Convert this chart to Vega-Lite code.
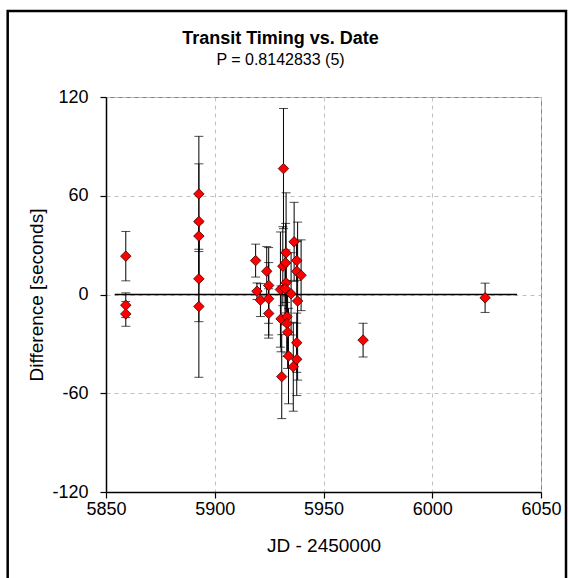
{
  "$schema": "https://vega.github.io/schema/vega-lite/v6.json",
  "autosize": {"type": "none"},
  "width": 435,
  "height": 395,
  "padding": {"left": 106, "top": 97, "right": 29, "bottom": 86},
  "background": "white",
  "title": {
    "text": "Transit Timing vs. Date",
    "subtitle": "P = 0.8142833 (5)",
    "font": "Liberation Sans",
    "fontSize": 18,
    "fontWeight": "bold",
    "color": "black",
    "subtitleFont": "Liberation Sans",
    "subtitleFontSize": 16,
    "subtitleColor": "black",
    "subtitlePadding": 4,
    "anchor": "middle",
    "frame": "group",
    "dx": -43,
    "offset": -58
  },
  "config": {
    "view": {"stroke": "#808080", "strokeWidth": 1},
    "axis": {
      "labelFont": "Liberation Sans",
      "labelFontSize": 18,
      "labelColor": "black",
      "labelFlush": false,
      "titleFont": "Liberation Sans",
      "titleFontSize": 19,
      "titleFontWeight": "normal",
      "titleColor": "black",
      "domainColor": "black",
      "domainWidth": 1.5,
      "tickColor": "black",
      "tickWidth": 1.2,
      "tickSize": 6,
      "gridColor": "#c0c0c0",
      "gridDash": [4, 4],
      "gridWidth": 1
    }
  },
  "datasets": {
    "timing": [
      {"jd": 5859.1, "diff": 23.3, "err": 15},
      {"jd": 5859.1, "diff": -6.5, "err": 7.5},
      {"jd": 5859.1, "diff": -11.8, "err": 7.5},
      {"jd": 5892.7, "diff": 61.1, "err": 35},
      {"jd": 5892.7, "diff": 44.4, "err": 35},
      {"jd": 5892.7, "diff": 35.5, "err": 8},
      {"jd": 5892.7, "diff": 9.5, "err": 26},
      {"jd": 5892.7, "diff": -7.3, "err": 43},
      {"jd": 5918.8, "diff": 20.6, "err": 10},
      {"jd": 5919.4, "diff": 2.0, "err": 5},
      {"jd": 5921.0, "diff": -3.4, "err": 10},
      {"jd": 5923.9, "diff": 14.1, "err": 15},
      {"jd": 5924.8, "diff": 5.5, "err": 23},
      {"jd": 5924.8, "diff": -2.6, "err": 22},
      {"jd": 5924.8, "diff": -11.5, "err": 15},
      {"jd": 5931.6, "diff": 76.5, "err": 36.5},
      {"jd": 5932.8, "diff": 25.3, "err": 36.5},
      {"jd": 5936.5, "diff": 32.0, "err": 24},
      {"jd": 5937.7, "diff": 20.6, "err": 12},
      {"jd": 5931.3, "diff": 17.2, "err": 24},
      {"jd": 5932.6, "diff": 19.2, "err": 24},
      {"jd": 5937.7, "diff": 14.1, "err": 18},
      {"jd": 5939.7, "diff": 11.7, "err": 21.5},
      {"jd": 5932.8, "diff": 7.1, "err": 20},
      {"jd": 5930.2, "diff": 3.0, "err": 35},
      {"jd": 5932.3, "diff": 3.6, "err": 22},
      {"jd": 5935.1, "diff": 0.4, "err": 25},
      {"jd": 5938.1, "diff": -4.0, "err": 48},
      {"jd": 5930.5, "diff": -14.8, "err": 20},
      {"jd": 5933.2, "diff": -13.5, "err": 22},
      {"jd": 5933.2, "diff": -17.6, "err": 20},
      {"jd": 5933.5, "diff": -22.9, "err": 22},
      {"jd": 5937.7, "diff": -29.3, "err": 18},
      {"jd": 5933.9, "diff": -37.4, "err": 29},
      {"jd": 5937.7, "diff": -39.4, "err": 22},
      {"jd": 5936.1, "diff": -43.9, "err": 27},
      {"jd": 5930.8, "diff": -49.9, "err": 25.5},
      {"jd": 5968.2, "diff": -27.7, "err": 10.3},
      {"jd": 6024.3, "diff": -2.0, "err": 8.9}
    ],
    "zeroline": [
      {"jd": 5854, "diff": 0},
      {"jd": 6039, "diff": 0}
    ],
    "frame": [
      {"x1": 5804.8, "x2": 6061.5, "y1": 172.3, "y2": -176}
    ]
  },
  "layer": [
    {
      "data": {"name": "frame"},
      "mark": {"type": "rect", "filled": false, "stroke": "black", "strokeWidth": 2.5, "clip": false},
      "encoding": {
        "x": {"field": "x1", "type": "quantitative", "title": "JD - 2450000", "scale": {"domain": [5850, 6050], "nice": false, "zero": false}},
        "x2": {"field": "x2"},
        "y": {"field": "y1", "type": "quantitative", "title": "Difference [seconds]", "scale": {"domain": [-120, 120], "nice": false}},
        "y2": {"field": "y2"}
      }
    },
    {
      "data": {"name": "zeroline"},
      "mark": {"type": "line", "color": "black", "strokeWidth": 1.5},
      "encoding": {
        "x": {"field": "jd", "type": "quantitative", "title": "JD - 2450000"},
        "y": {"field": "diff", "type": "quantitative", "title": "Difference [seconds]"}
      }
    },
    {
      "data": {"name": "timing"},
      "mark": {"type": "errorbar", "ticks": {"size": 9, "color": "black", "strokeWidth": 1.2}, "rule": {"color": "black", "strokeWidth": 1}},
      "encoding": {
        "x": {"field": "jd", "type": "quantitative", "title": "JD - 2450000"},
        "y": {"field": "diff", "type": "quantitative", "title": "Difference [seconds]"},
        "yError": {"field": "err"}
      }
    },
    {
      "data": {"name": "timing"},
      "mark": {"type": "point", "shape": "diamond", "filled": true, "fill": "#ff0000", "stroke": "#400000", "strokeWidth": 0.8, "size": 110, "opacity": 1},
      "encoding": {
        "x": {
          "field": "jd", "type": "quantitative", "title": "JD - 2450000",
          "axis": {"values": [5850, 5900, 5950, 6000, 6050], "labelExpr": "'' + datum.value", "labelPadding": 2, "titlePadding": 18}
        },
        "y": {
          "field": "diff", "type": "quantitative", "title": "Difference [seconds]",
          "axis": {"values": [-120, -60, 0, 60, 120], "labelExpr": "'' + datum.value", "labelPadding": 12, "titlePadding": 5}
        }
      }
    }
  ]
}
